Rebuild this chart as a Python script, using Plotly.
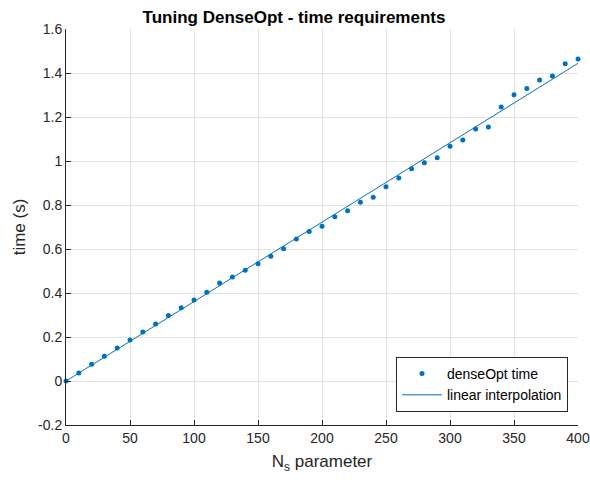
import plotly.graph_objects as go

ns_values = [0, 10, 20, 30, 40, 50, 60, 70, 80, 90, 100, 110, 120, 130, 140, 150,
             160, 170, 180, 190, 200, 210, 220, 230, 240, 250, 260, 270, 280, 290,
             300, 310, 320, 330, 340, 350, 360, 370, 380, 390, 400]
time_values = [0.0, 0.036, 0.076, 0.112, 0.150, 0.186, 0.223, 0.259, 0.298, 0.333,
               0.368, 0.403, 0.445, 0.473, 0.503, 0.533, 0.567, 0.601, 0.645, 0.679,
               0.703, 0.747, 0.774, 0.812, 0.835, 0.883, 0.923, 0.965, 0.992, 1.015,
               1.067, 1.095, 1.145, 1.155, 1.245, 1.301, 1.329, 1.368, 1.386, 1.442,
               1.464]
fit_x = [0, 400]
fit_y = [0.0, 1.444]

x_ticks = [0, 50, 100, 150, 200, 250, 300, 350, 400]
y_ticks = [-0.2, 0, 0.2, 0.4, 0.6, 0.8, 1.0, 1.2, 1.4, 1.6]
y_tick_labels = ["-0.2", "0", "0.2", "0.4", "0.6", "0.8", "1", "1.2", "1.4", "1.6"]

blue = "#0072BD"
dark = "#262626"
font_family = "Liberation Sans, Arial, Helvetica, sans-serif"

fig = go.Figure()
fig.add_trace(go.Scatter(x=ns_values, y=time_values, mode="markers",
                         marker=dict(color=blue, size=5), name="denseOpt time",
                         cliponaxis=False))
fig.add_trace(go.Scatter(x=fit_x, y=fit_y, mode="lines",
                         line=dict(color=blue, width=1), name="linear interpolation"))

axis_common = dict(showline=True, linecolor=dark, linewidth=1, ticks="inside",
                   ticklen=5, tickcolor=dark, tickwidth=1, showgrid=True,
                   gridcolor="#e3e3e3", gridwidth=1, zeroline=False,
                   automargin=False, ticklabeloverflow="allow",
                   tickfont=dict(size=14, color=dark, family=font_family))

fig.update_layout(
    width=590, height=480,
    margin=dict(l=66, r=12, t=29, b=55),
    paper_bgcolor="white", plot_bgcolor="white",
    font=dict(family=font_family, color=dark),
    title=dict(text="<b>Tuning DenseOpt - time requirements</b>",
               x=(294 - 66) / 512, xref="paper", xanchor="center",
               y=1 - 17 / 480, yanchor="middle", yref="container",
               font=dict(size=17, color="black", family=font_family)),
    xaxis=dict(range=[0, 400], tickvals=x_ticks,
               title=dict(text="N<sub>s</sub> parameter", font=dict(size=17, color=dark), standoff=10),
               **axis_common),
    yaxis=dict(range=[-0.2, 1.6], tickvals=y_ticks, ticktext=y_tick_labels,
               title=dict(text="time (s)", font=dict(size=17, color=dark), standoff=8),
               **axis_common),
    legend=dict(x=(568 - 66) / 512, xanchor="right", y=(425 - 412) / 396, yanchor="bottom",
                bgcolor="white", bordercolor=dark, borderwidth=1,
                font=dict(size=14, color="black", family=font_family),
                tracegroupgap=0, itemwidth=40),
    showlegend=True,
)

fig.write_html("out.html", config={"displayModeBar": False},
               post_script="document.body.style.margin='0px';")
